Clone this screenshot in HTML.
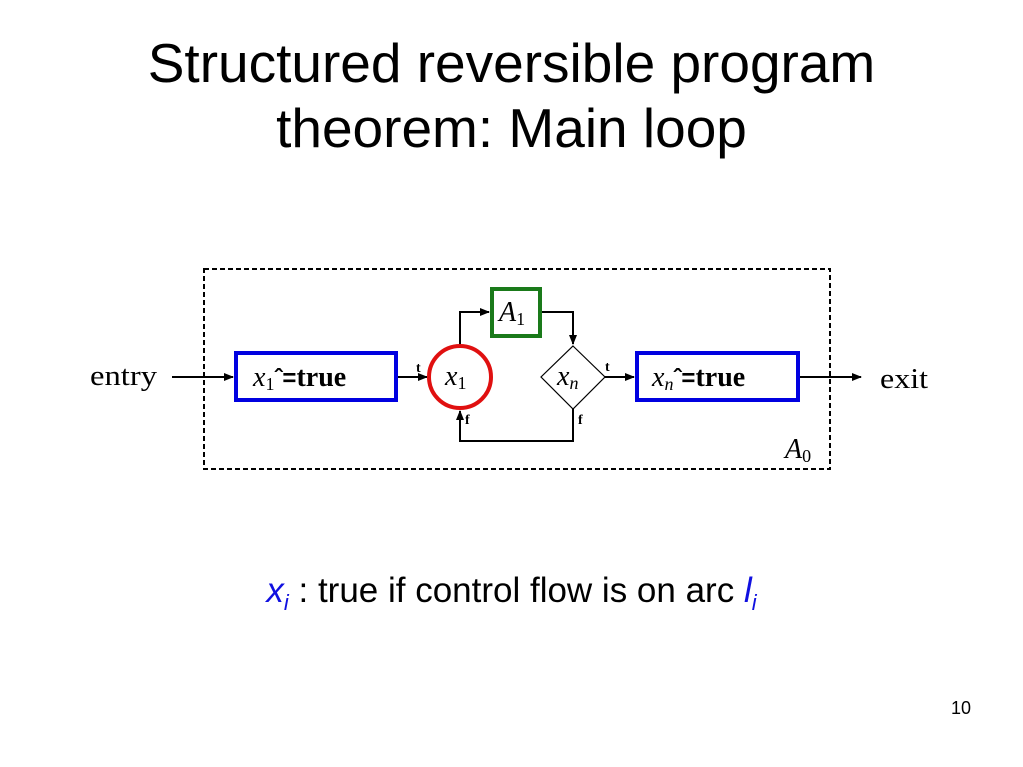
<!DOCTYPE html>
<html><head><meta charset="utf-8"><style>
body{margin:0;width:1023px;height:767px;background:#fff;overflow:hidden;position:relative;font-family:"Liberation Sans",sans-serif}
.t{position:absolute;left:0;width:1023px;text-align:center;font-size:55px;line-height:64px;color:#000}
</style></head><body>
<div class="t" style="top:31px">Structured reversible program</div>
<div class="t" style="top:96px">theorem: Main loop</div>
<svg width="1023" height="767" style="position:absolute;left:0;top:0">
<defs><marker id="a" markerWidth="10" markerHeight="8" refX="9" refY="4" orient="auto" markerUnits="userSpaceOnUse"><path d="M0,0L10,4L0,8z" fill="#000"/></marker></defs>
<rect x="204" y="269" width="626" height="200" fill="none" stroke="#000" stroke-width="2" stroke-dasharray="5,3"/>
<g stroke="#000" stroke-width="2" fill="none">
<line x1="172" y1="377" x2="233" y2="377" marker-end="url(#a)"/>
<line x1="397" y1="377" x2="427" y2="377" marker-end="url(#a)"/>
<polyline points="460,345 460,312 489,312" marker-end="url(#a)"/>
<polyline points="541,312 573,312 573,344" marker-end="url(#a)"/>
<line x1="605" y1="377" x2="634" y2="377" marker-end="url(#a)"/>
<line x1="800" y1="377" x2="861" y2="377" marker-end="url(#a)"/>
<polyline points="573,409 573,441 460,441 460,411" marker-end="url(#a)"/>
</g>
<rect x="236" y="353" width="160" height="47" fill="#fff" stroke="#0000e0" stroke-width="4"/>
<rect x="637" y="353" width="161" height="47" fill="#fff" stroke="#0000e0" stroke-width="4"/>
<rect x="492" y="289" width="48" height="47" fill="#fff" stroke="#1a7a1a" stroke-width="4"/>
<circle cx="460" cy="377" r="31" fill="#fff" stroke="#e01010" stroke-width="4"/>
<polygon points="573,346 605,377 573,409 541,377" fill="#fff" stroke="#000" stroke-width="1.2"/>
<g font-family="Liberation Serif,serif" font-size="28" fill="#000">
<text x="90" y="385" font-size="29" textLength="67" lengthAdjust="spacingAndGlyphs">entry</text>
<text x="880" y="388" font-size="29" textLength="48" lengthAdjust="spacingAndGlyphs">exit</text>
<text x="253" y="386"><tspan font-style="italic">x</tspan><tspan font-size="18" dy="4">1</tspan><tspan dy="-4" font-family="Liberation Sans,sans-serif" font-weight="bold" font-size="24">ˆ=</tspan><tspan font-weight="bold">true</tspan></text>
<text x="652" y="386"><tspan font-style="italic">x</tspan><tspan font-size="18" font-style="italic" dy="4">n</tspan><tspan dy="-4" font-family="Liberation Sans,sans-serif" font-weight="bold" font-size="24">ˆ=</tspan><tspan font-weight="bold">true</tspan></text>
<text x="445" y="385"><tspan font-style="italic">x</tspan><tspan font-size="18" dy="4">1</tspan></text>
<text x="557" y="385"><tspan font-style="italic">x</tspan><tspan font-size="18" font-style="italic" dy="4">n</tspan></text>
<text x="499" y="321"><tspan font-style="italic">A</tspan><tspan font-size="18" dy="4">1</tspan></text>
<text x="785" y="458"><tspan font-style="italic">A</tspan><tspan font-size="18" dy="4">0</tspan></text>
<g font-size="14" font-weight="bold"><text x="416" y="372">t</text><text x="465" y="424">f</text><text x="605" y="371">t</text><text x="578" y="424">f</text></g>
</g>
</svg>
<div style="position:absolute;left:0;width:1023px;top:569px;text-align:center;font-size:35px;line-height:44px;color:#000">
<span style="color:#1010e0;font-style:italic">x<sub style="font-size:22px">i</sub></span> : true if control flow is on arc <span style="color:#1010e0;font-style:italic">l<sub style="font-size:22px">i</sub></span></div>
<div style="position:absolute;left:951px;top:698px;font-size:18px">10</div>
</body></html>
